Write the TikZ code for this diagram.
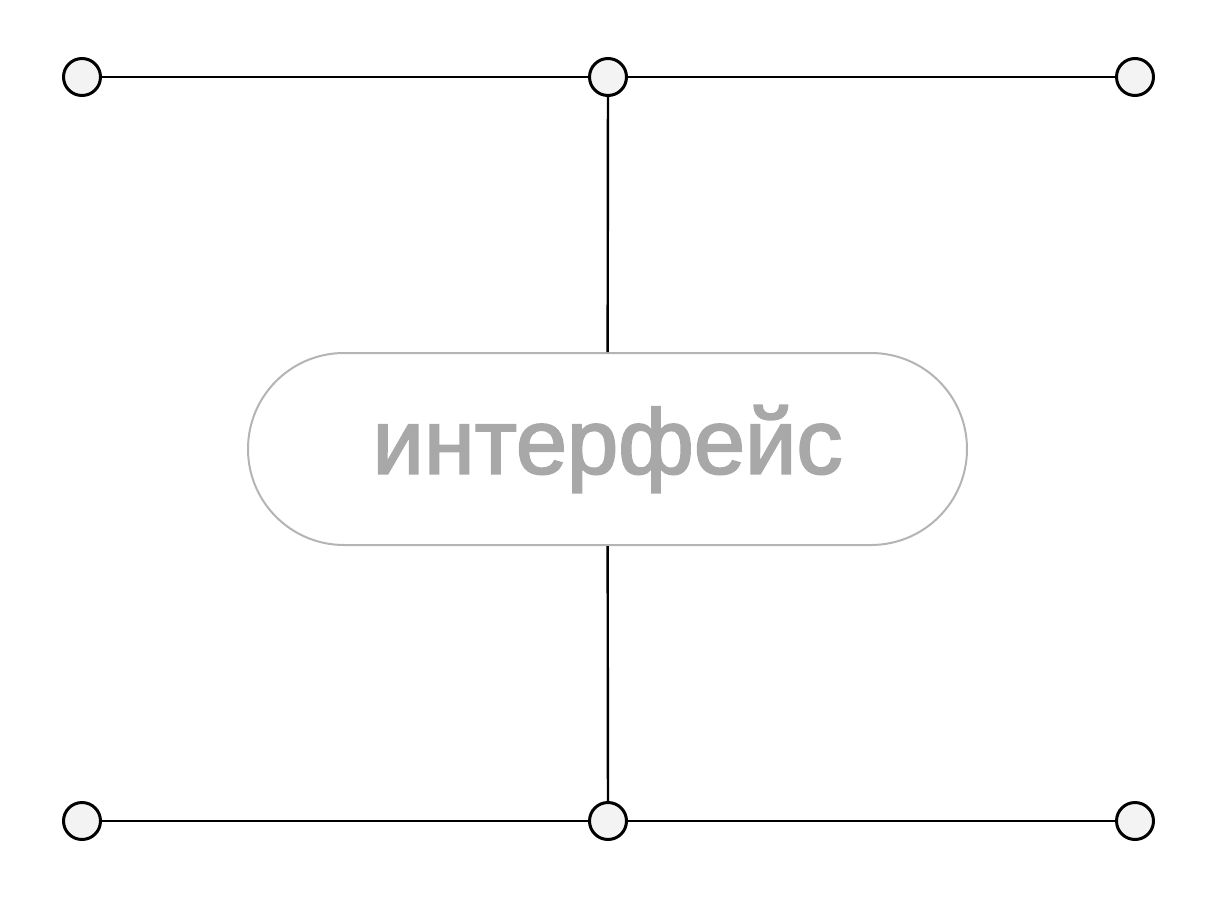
\documentclass[tikz,border=0pt]{standalone}
\usepackage{fontspec}
\newfontfamily\labelfont[FakeBold=2.2]{Liberation Sans}
\usetikzlibrary{positioning}
\definecolor{dotfill}{HTML}{F3F3F3}
\definecolor{pillgray}{HTML}{B4B4B4}
\definecolor{textgray}{HTML}{A8A8A8}

\begin{document}
\begin{tikzpicture}[
    x=1pt, y=-1pt,
    dot/.style={draw=black, circle, fill=dotfill, line width=3pt,
                minimum size=37pt, inner sep=0pt},
    wire/.style={draw=black, line width=2.4pt}
  ]
  \useasboundingbox (0,0) rectangle (1216,900);
  % top row
  \node[dot] (tl) at (82,77) {};
  \node[dot] (tm) at (608,77) {};
  \node[dot] (tr) at (1135,77) {};
  % bottom row
  \node[dot] (bl) at (82,821) {};
  \node[dot] (bm) at (608,821) {};
  \node[dot] (br) at (1135,821) {};

  \node[draw=pillgray, line width=2pt, rounded corners=96pt,
        minimum width=719pt, minimum height=192pt,
        font=\labelfont\fontsize{92}{92}\selectfont, text=textgray]
    (iface) at (607.5,449) {\raisebox{-6pt}{интерфейс}};

  \draw[wire] (tl) -- (tm);
  \draw[wire] (tm) -- (tr);
  \draw[wire] (bl) -- (bm);
  \draw[wire] (bm) -- (br);
  \draw[wire] (tm) -- (iface);
  \draw[wire] (iface) -- (bm);
\end{tikzpicture}
\end{document}
